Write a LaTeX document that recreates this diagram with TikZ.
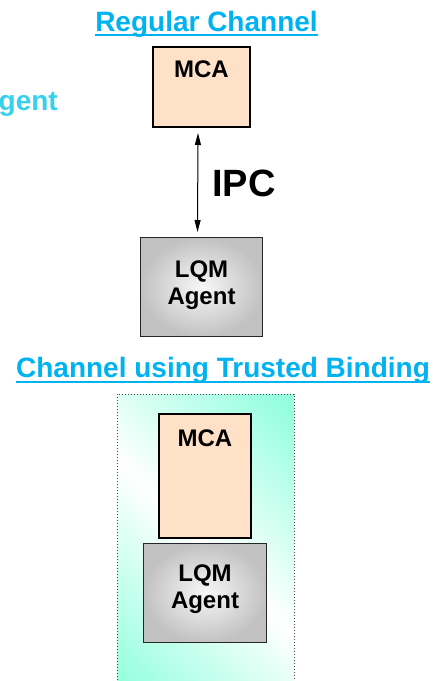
\documentclass[tikz,border=0pt]{standalone}
\usepackage{fontspec}
\setmainfont{Liberation Sans}
\usetikzlibrary{positioning, arrows.meta}

\definecolor{headblue}{RGB}{0,178,240}
\definecolor{agentcyan}{RGB}{56,208,236}
\definecolor{peach}{RGB}{255,225,200}
\definecolor{aqua}{RGB}{150,255,222}
\pgfdeclarehorizontalshading{bindfill}{100bp}{color(0bp)=(aqua); color(18bp)=(aqua); color(50bp)=(white); color(82bp)=(aqua); color(100bp)=(aqua)}

\begin{document}
\begin{tikzpicture}[x=1pt, y=-1pt,
	mcabox/.style={rectangle, draw=black, line width=2pt, fill=peach, inner sep=0pt},
	lqmbox/.style={rectangle, draw=black!85, line width=1.2pt, inner color=black!3, outer color=black!24, inner sep=0pt, align=center, font=\fontsize{24}{27}\selectfont\bfseries},
	boxtext/.style={inner sep=0pt, font=\fontsize{24}{27}\selectfont\bfseries},
	header/.style={inner sep=0pt, anchor=base, text=headblue, font=\fontsize{28}{32}\selectfont\bfseries},
	underline/.style={draw=headblue, line width=2.6pt}]
	\path[use as bounding box, clip] (0,0) rectangle (436,681);

	% regular channel
	\node[header] (regTitle) at (206.5,31) {Regular Channel};
	\draw[underline] ([yshift=-4pt]regTitle.base west) -- ([yshift=-4pt]regTitle.base east);
	\node[inner sep=0pt, anchor=base east, text=agentcyan, font=\fontsize{28}{32}\selectfont\bfseries] (cutAgent) at (58,110) {gent};
	\node[mcabox, minimum width=97pt, minimum height=80pt] (mcaTop) at (201.5,87) {};
	\node[boxtext] (mcaTopText) [below=15pt of mcaTop.north] {MCA};
	\node[lqmbox, minimum width=122pt, minimum height=99pt, text depth=8pt] (lqmTop) [below=109pt of mcaTop] {LQM\\Agent};
	\draw[{Triangle[width=6pt,length=12pt]}-{Triangle[width=6pt,length=12pt]}, line width=1pt, shorten <=5pt, shorten >=5pt] ([xshift=-3.5pt]mcaTop.south) -- ([xshift=-4pt]lqmTop.north);
	\node[inner sep=0pt, anchor=base west, font=\fontsize{38}{40}\selectfont\bfseries] (ipc) at (212,196) {IPC};

	% channel using trusted binding
	\node[header] (trustTitle) at (223,377) {Channel using Trusted Binding};
	\draw[underline] ([yshift=-5pt]trustTitle.base west) -- ([yshift=-5pt]trustTitle.base east);
	\node[rectangle, draw=black!75, dotted, line width=1pt, shading=bindfill, shading angle=45, minimum width=177pt, minimum height=306pt] (bindArea) at (205.5,547) {};
	\node[mcabox, minimum width=92pt, minimum height=124pt] (mcaBot) at (205,476) {};
	\node[boxtext] (mcaBotText) [below=17pt of mcaBot.north] {MCA};
	\node[lqmbox, minimum width=123pt, minimum height=99pt, text depth=12pt] (lqmBot) [below=4pt of mcaBot] {LQM\\Agent};
\end{tikzpicture}
\end{document}
